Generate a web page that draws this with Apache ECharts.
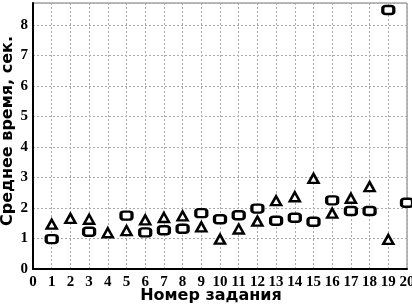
<!DOCTYPE html>
<html>
<head>
<meta charset="utf-8">
<script src="https://cdn.jsdelivr.net/npm/echarts@6/dist/echarts.min.js"></script>
<style>html,body{margin:0;padding:0;background:#fff}#c{width:412px;height:306px}</style>
</head>
<body>
<div id="c"></div>
<script>
const tasks = [1,2,3,4,5,6,7,8,9,10,11,12,13,14,15,16,17,18,19,20];
const squareValues = [0.98,null,1.22,null,1.75,1.2,1.27,1.32,1.83,1.63,1.76,1.98,1.58,1.68,1.55,2.25,1.9,1.9,8.49,2.17];
const triangleValues = [1.47,1.66,1.63,1.19,1.26,1.61,1.69,1.74,1.38,0.98,1.31,1.57,2.24,2.37,2.97,1.83,2.32,2.7,0.97,null];
const xTicks = [0,1,2,3,4,5,6,7,8,9,10,11,12,13,14,15,16,17,18,19,20];
const yTicks = [0,1,2,3,4,5,6,7,8];

function pairs(vals){ const out=[]; tasks.forEach((t,i)=>{ if(vals[i]!=null) out.push([t,vals[i]]); }); return out; }

const chart = echarts.init(document.getElementById('c'), null, {renderer:'canvas'});
const labelFont = {fontFamily:'Liberation Serif', fontWeight:'bold', fontSize:15, color:'#000'};
const nameFont = {fontFamily:'DejaVu Sans', fontWeight:'bold', fontSize:16, color:'#000'};
chart.setOption({
  animation:false,
  grid:{left:33, right:5, top:3, bottom:37, containLabel:false, outerBoundsMode:'none',
        show:true, borderColor:'#777', borderWidth:1},
  xAxis:{
    type:'value', min:xTicks[0], max:xTicks[xTicks.length-1], interval:1,
    name:'Номер задания', nameLocation:'middle', nameGap:19, nameMoveOverlap:false,
    nameTextStyle:Object.assign({padding:[0,18,0,0]}, nameFont),
    axisLine:{show:true, onZero:false, lineStyle:{color:'#000', width:2}},
    axisTick:{show:false},
    axisLabel:Object.assign({margin:6, interval:0}, labelFont),
    splitLine:{show:true, lineStyle:{color:'#aaa', type:[2,2], width:1}}
  },
  yAxis:{
    type:'value', min:yTicks[0], max:8.72, interval:1,
    name:'Среднее время, сек.', nameLocation:'middle', nameGap:17, nameMoveOverlap:false,
    nameTextStyle:Object.assign({padding:[0,0,0,10]}, nameFont),
    axisLine:{show:true, onZero:false, lineStyle:{color:'#000', width:2}},
    axisTick:{show:false},
    axisLabel:Object.assign({margin:5, showMaxLabel:false,
      formatter:v=> yTicks.includes(v)? String(v):''}, labelFont),
    splitLine:{show:true, lineStyle:{color:'#aaa', type:[2,2], width:1}}
  },
  series:[
    {type:'scatter', clip:false, symbol:'triangle', symbolSize:[10,9], data:pairs(triangleValues),
     itemStyle:{color:'#fff', borderColor:'#000', borderWidth:2.5, opacity:1}},
    {type:'scatter', clip:false, symbol:'roundRect', symbolSize:[11,8], data:pairs(squareValues),
     itemStyle:{color:'#fff', borderColor:'#000', borderWidth:2.8, opacity:1}}
  ]
});
</script>
</body>
</html>
